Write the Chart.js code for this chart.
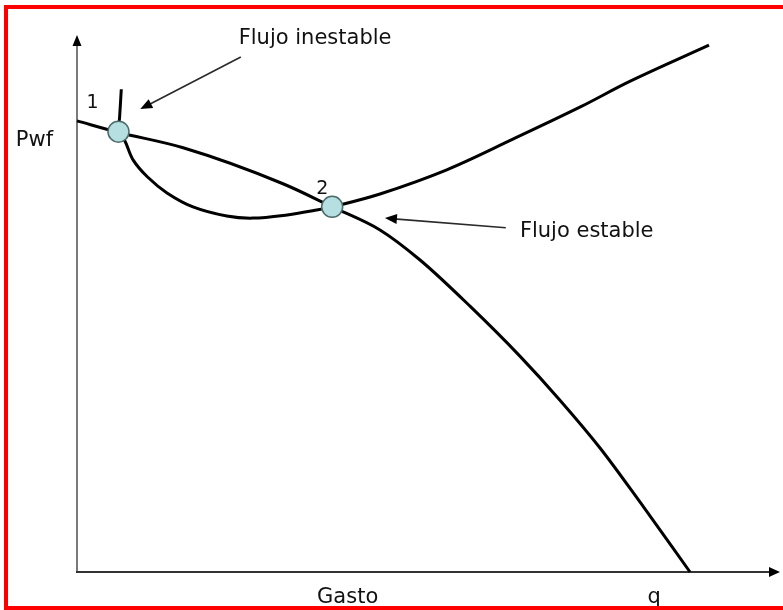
<!DOCTYPE html>
<html>
<head>
<meta charset="utf-8">
<script src="https://cdn.jsdelivr.net/npm/chart.js@4/dist/chart.umd.min.js"></script>
<style>
  html, body { margin: 0; padding: 0; background: #fff; }
  canvas { display: block; }
</style>
</head>
<body>
<canvas id="ipr" width="783" height="610"></canvas>
<script>
/* Datos (unidades arbitrarias: q 0-100, Pwf 0-100) */
const iprQ   = [0, 5.8, 15.1, 29.3, 36.3, 43.1, 48.8, 55.9, 63.0, 68.7, 74.4, 80.1, 87.2];
const iprPwf = [84.0, 81.9, 79.0, 72.3, 68.0, 63.7, 58.1, 49.5, 40.2, 32.0, 23.1, 13.0, 0];

const vlpQ   = [6.3, 6.05, 5.9, 6.8, 8.0, 10.0, 12.8, 16.5, 21.3, 25.0, 29.9, 34.1, 36.3, 43.1, 52.6, 62.0, 71.6, 78.7, 89.9];
const vlpPwf = [89.9, 84.5, 82.0, 80.3, 76.7, 73.6, 70.6, 68.0, 66.3, 65.9, 66.5, 67.4, 68.0, 70.4, 74.9, 80.6, 86.6, 91.4, 98.1];

const opLabels = ["1", "2"];
const opQ      = [5.9, 36.3];
const opPwf    = [82.0, 68.0];

function toXY(xs, ys) {
  return xs.map((x, i) => ({ x: x, y: ys[i] }));
}

/* Textos y flechas de anotación (en unidades de datos) */
const notes = [
  { text: "Flujo inestable", x: 23.0, y: 98.3, align: "left" },
  { text: "Flujo estable",   x: 63.0, y: 62.4, align: "left" },
  { text: "Pwf",             x: -8.7, y: 79.3, align: "left" },
  { text: "Gasto",           x: 38.5, y: -5.8, align: "center" },
  { text: "q",               x: 82.1, y: -5.8, align: "center" },
];
const labelOffset = [{ dx: -26, dy: -24 }, { dx: -10, dy: -13 }];
const arrows = [
  { from: [23.3, 95.9], to: [9.0, 86.2] },
  { from: [61.0, 64.1], to: [43.8, 65.9] },
];

function arrowHead(ctx, x1, y1, x2, y2, len, half) {
  const a = Math.atan2(y2 - y1, x2 - x1);
  ctx.beginPath();
  ctx.moveTo(x2, y2);
  ctx.lineTo(x2 - len * Math.cos(a) + half * Math.sin(a), y2 - len * Math.sin(a) - half * Math.cos(a));
  ctx.lineTo(x2 - len * Math.cos(a) - half * Math.sin(a), y2 - len * Math.sin(a) + half * Math.cos(a));
  ctx.closePath();
  ctx.fill();
}

const decor = {
  id: "decor",
  beforeDatasetsDraw(chart) {
    const ctx = chart.ctx;
    const a = chart.chartArea;
    ctx.save();
    // eje Pwf
    ctx.strokeStyle = "#7a7a7a";
    ctx.lineWidth = 2;
    ctx.beginPath();
    ctx.moveTo(a.left, a.bottom);
    ctx.lineTo(a.left, a.top + 10);
    ctx.stroke();
    ctx.fillStyle = "#000";
    arrowHead(ctx, a.left, a.bottom, a.left, a.top, 11, 4.5);
    // eje q
    ctx.strokeStyle = "#333";
    ctx.lineWidth = 2;
    ctx.beginPath();
    ctx.moveTo(a.left - 1, a.bottom);
    ctx.lineTo(a.right - 10, a.bottom);
    ctx.stroke();
    arrowHead(ctx, a.left, a.bottom, a.right, a.bottom, 11, 5);
    ctx.restore();
  },
  afterDatasetsDraw(chart) {
    const ctx = chart.ctx;
    const xs = chart.scales.x;
    const ys = chart.scales.y;
    ctx.save();
    // flechas
    arrows.forEach(ar => {
      const x1 = xs.getPixelForValue(ar.from[0]), y1 = ys.getPixelForValue(ar.from[1]);
      const x2 = xs.getPixelForValue(ar.to[0]),   y2 = ys.getPixelForValue(ar.to[1]);
      ctx.strokeStyle = "#2a2a2a";
      ctx.lineWidth = 1.6;
      ctx.beginPath();
      ctx.moveTo(x1, y1);
      ctx.lineTo(x2 - (x2 - x1) * 0.05, y2 - (y2 - y1) * 0.05);
      ctx.stroke();
      ctx.fillStyle = "#000";
      arrowHead(ctx, x1, y1, x2, y2, 12, 5);
    });
    // textos
    ctx.fillStyle = "#111";
    ctx.textBaseline = "alphabetic";
    ctx.font = "21px 'DejaVu Sans', Verdana, sans-serif";
    notes.forEach(n => {
      ctx.textAlign = n.align;
      ctx.fillText(n.text, xs.getPixelForValue(n.x), ys.getPixelForValue(n.y));
    });
    ctx.font = "19px 'DejaVu Sans', Verdana, sans-serif";
    ctx.textAlign = "center";
    opLabels.forEach((t, i) => {
      const px = xs.getPixelForValue(opQ[i]) + labelOffset[i].dx;
      const py = ys.getPixelForValue(opPwf[i]) + labelOffset[i].dy;
      ctx.fillText(t, px, py);
    });
    ctx.restore();
  },
  afterDraw(chart) {
    const ctx = chart.ctx;
    ctx.save();
    ctx.strokeStyle = "#ff0000";
    ctx.lineWidth = 4;
    ctx.strokeRect(6, 7, 800, 601);
    ctx.restore();
  },
};

new Chart(document.getElementById("ipr").getContext("2d"), {
  type: "scatter",
  data: {
    datasets: [
      {
        label: "Puntos de operación",
        data: toXY(opQ, opPwf),
        pointRadius: 10.5,
        pointBackgroundColor: "#b5dfe0",
        pointBorderColor: "#4d6b6b",
        pointBorderWidth: 1.5,
        order: 0,
      },
      {
        label: "IPR",
        data: toXY(iprQ, iprPwf),
        showLine: true,
        borderColor: "#000",
        borderWidth: 3,
        pointRadius: 0,
        cubicInterpolationMode: "monotone",
        order: 1,
      },
      {
        label: "VLP",
        data: toXY(vlpQ, vlpPwf),
        showLine: true,
        borderColor: "#000",
        borderWidth: 3,
        pointRadius: 0,
        tension: 0.35,
        order: 1,
      },
    ],
  },
  options: {
    responsive: false,
    animation: false,
    clip: false,
    layout: { autoPadding: false, padding: { left: 77, right: 3, top: 35, bottom: 38 } },
    plugins: {
      legend: { display: false },
      tooltip: { enabled: false },
      title: { display: false },
    },
    scales: {
      x: { type: "linear", min: 0, max: 100, display: false },
      y: { type: "linear", min: 0, max: 100, display: false },
    },
  },
  plugins: [decor],
});
</script>
</body>
</html>
